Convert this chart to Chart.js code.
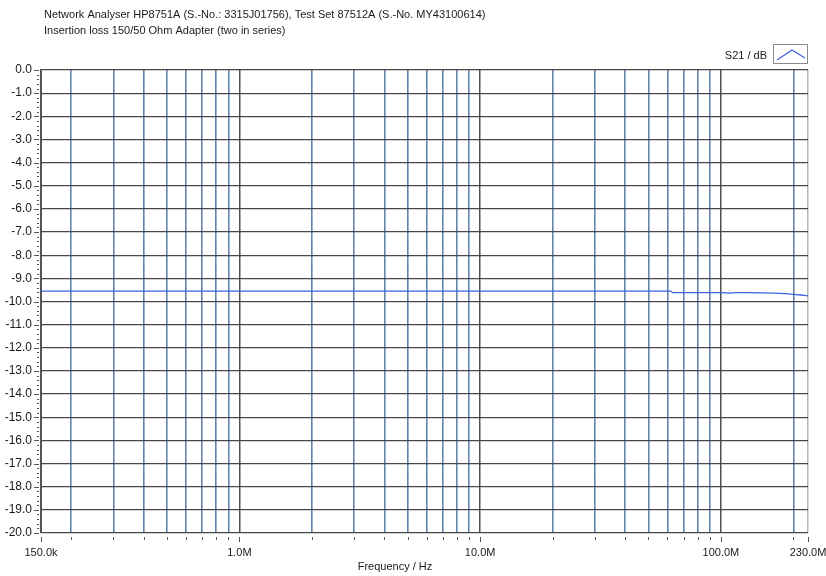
<!DOCTYPE html>
<html>
<head>
<meta charset="utf-8">
<title>Insertion loss 150/50 Ohm Adapter</title>
<script src="https://cdn.jsdelivr.net/npm/chart.js@4.4.1/dist/chart.umd.min.js"></script>
<style>
  html, body { margin: 0; padding: 0; background: #ffffff; }
  #wrap { position: relative; width: 826px; height: 576px; }
</style>
</head>
<body>
<div id="wrap"><canvas id="chart" width="826" height="576"></canvas></div>
<script>
// Header and axis texts
const titleLines = [
  'Network Analyser HP8751A (S.-No.: 3315J01756), Test Set 87512A (S.-No. MY43100614)',
  'Insertion loss 150/50 Ohm Adapter (two in series)'
];
const seriesName = 'S21 / dB';
const xAxisTitle = 'Frequency / Hz';

// Measured S21 trace: frequency (Hz) and level (dB)
const freqHz = [150e3, 1e6, 10e6, 50e6, 62e6, 63e6, 80e6, 100e6, 105e6, 110e6, 115e6, 130e6, 150e6, 165e6, 185e6, 195e6, 205e6, 215e6, 222e6, 230e6];
const s21dB  = [-9.55, -9.55, -9.55, -9.55, -9.55, -9.62, -9.62, -9.62, -9.63, -9.64, -9.62, -9.62, -9.63, -9.64, -9.66, -9.68, -9.70, -9.72, -9.74, -9.76];

// Frequency axis grid positions and labelled ticks
const xGridValues = [
  150e3, 200e3, 300e3, 400e3, 500e3, 600e3, 700e3, 800e3, 900e3,
  1e6, 2e6, 3e6, 4e6, 5e6, 6e6, 7e6, 8e6, 9e6,
  10e6, 20e6, 30e6, 40e6, 50e6, 60e6, 70e6, 80e6, 90e6,
  100e6, 200e6, 230e6
];
const xLabelValues = [150e3, 1e6, 10e6, 100e6, 230e6];
const xLabelTexts  = ['150.0k', '1.0M', '10.0M', '100.0M', '230.0M'];
const decadeValues = [1e6, 10e6, 100e6];

const X_MIN = 150e3, X_MAX = 230e6, Y_MIN = -20, Y_MAX = 0;
const FONT = '"Liberation Sans", Arial, sans-serif';
const TEXT_COLOR = '#1a1a1a';

// Colour and width of each vertical grid line, in the order of xGridValues
const xGridColors = xGridValues.map(v => {
  if (v === X_MIN) return 'rgba(0,0,0,0)';
  if (v === X_MAX) return '#b8b8b8';
  if (decadeValues.includes(v)) return '#505050';
  return '#6285ae';
});
const xGridWidths = xGridValues.map(v => {
  if (v === X_MIN || v === X_MAX) return 1.5;
  if (decadeValues.includes(v)) return 1.5;
  return 1.6;
});

const points = freqHz.map((f, i) => ({ x: f, y: s21dB[i] }));

// Draws tick marks, header, legend and axis title around the plot
const decorations = {
  id: 'decorations',
  afterDraw(chart) {
    const ctx = chart.ctx;
    const xs = chart.scales.x, ys = chart.scales.y;
    const area = chart.chartArea;
    ctx.save();
    ctx.strokeStyle = '#555555';
    ctx.lineWidth = 1;
    // y-axis tick marks: majors every 1 dB, minors every 0.2 dB
    for (let k = 0; k <= 100; k++) {
      const v = Y_MIN + k * 0.2;
      const y = Math.round(ys.getPixelForValue(v)) + 0.5;
      const major = k % 5 === 0;
      ctx.beginPath();
      ctx.moveTo(area.left - (major ? 7 : 4), y);
      ctx.lineTo(area.left - 2, y);
      ctx.stroke();
    }
    // x-axis tick marks below the plot
    xGridValues.forEach(v => {
      const x = Math.round(xs.getPixelForValue(v)) + 0.5;
      const major = xLabelValues.includes(v);
      ctx.beginPath();
      ctx.moveTo(x, area.bottom + 4);
      ctx.lineTo(x, area.bottom + (major ? 9 : 7));
      ctx.stroke();
    });
    // header text
    ctx.fillStyle = TEXT_COLOR;
    ctx.font = '11px ' + FONT;
    ctx.textAlign = 'left';
    ctx.textBaseline = 'middle';
    ctx.fillText(titleLines[0], 44, 15);
    ctx.fillText(titleLines[1], 44, 31);
    // legend
    ctx.textAlign = 'right';
    ctx.fillText(seriesName, 767, 56);
    ctx.strokeStyle = '#8a8a8a';
    ctx.strokeRect(773.5, 44.5, 34, 19);
    const ds = chart.data.datasets[0];
    ctx.strokeStyle = ds.borderColor;
    ctx.lineWidth = 1.2;
    ctx.beginPath();
    ctx.moveTo(777, 60);
    ctx.lineTo(792, 50);
    ctx.lineTo(805, 58);
    ctx.stroke();
    // x-axis title
    ctx.textAlign = 'center';
    ctx.fillText(xAxisTitle, 395, 567);
    ctx.restore();
  }
};

new Chart(document.getElementById('chart'), {
  type: 'line',
  data: {
    datasets: [{
      label: seriesName,
      data: points,
      borderColor: '#3d62dc',
      borderWidth: 1.3,
      pointRadius: 0,
      tension: 0,
      fill: false
    }]
  },
  options: {
    responsive: false,
    animation: false,
    layout: { padding: { left: 0, right: 18, top: 70, bottom: 0 } },
    plugins: { legend: { display: false }, title: { display: false }, tooltip: { enabled: false } },
    scales: {
      x: {
        type: 'logarithmic',
        min: X_MIN,
        max: X_MAX,
        afterBuildTicks(scale) {
          scale.ticks = xGridValues.map(v => ({ value: v, major: false }));
        },
        afterFit(scale) {
          scale.height = 43;
          scale.paddingLeft = 0;
          scale.paddingRight = 0;
        },
        border: { display: false },
        grid: {
          drawTicks: false,
          lineWidth: xGridWidths,
          color: xGridColors
        },
        ticks: {
          autoSkip: false,
          maxRotation: 0,
          padding: 13,
          major: { enabled: false },
          color: TEXT_COLOR,
          font: { family: FONT, size: 11 },
          callback(value) {
            const i = xLabelValues.indexOf(value);
            return i >= 0 ? xLabelTexts[i] : '';
          }
        }
      },
      y: {
        min: Y_MIN,
        max: Y_MAX,
        afterFit(scale) { scale.width = 41; },
        border: { display: true, color: '#555555', width: 2 },
        grid: { drawTicks: false, color: '#484848', lineWidth: 1.3 },
        ticks: {
          stepSize: 1,
          padding: 9,
          color: TEXT_COLOR,
          font: { family: FONT, size: 12 },
          callback(value) { return Number(value).toFixed(1); }
        }
      }
    }
  },
  plugins: [decorations]
});
</script>
</body>
</html>
